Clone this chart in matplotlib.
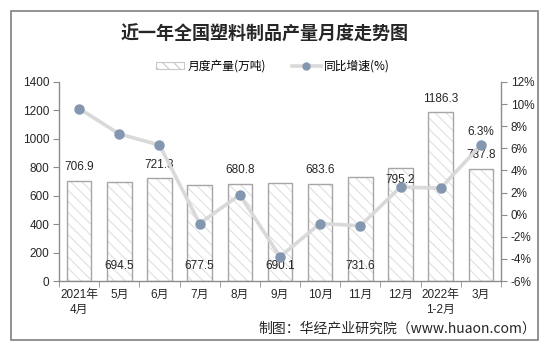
import matplotlib
matplotlib.use("Agg")
import matplotlib.pyplot as plt
from matplotlib.patches import Rectangle, Patch
from matplotlib.lines import Line2D
import numpy as np

# Monthly output of plastic products (10k tonnes) and YoY growth (%)
months = ["2021年\n4月", "5月", "6月", "7月", "8月", "9月", "10月", "11月",
          "12月", "2022年\n1-2月", "3月"]
output = [706.9, 694.5, 721.3, 677.5, 680.8, 690.1, 683.6, 731.6, 795.2, 1186.3, 787.8]
growth = [9.6, 7.3, 6.3, -0.8, 1.8, -3.8, -0.8, -1.0, 2.5, 2.4, 6.3]
y_left_ticks = [0, 200, 400, 600, 800, 1000, 1200, 1400]
y_right_ticks = [-6, -4, -2, 0, 2, 4, 6, 8, 10, 12]

plt.rcParams["font.family"] = ["Liberation Sans", "Noto Sans CJK SC"]
plt.rcParams["hatch.linewidth"] = 0.8

AXIS = "#8c8c8c"
BAR_EDGE = "#a6a6a6"
HATCH = "#e0e0e0"
LINE = "#d9d9d9"
MARK = "#8497b0"
TEXT = "#262626"

fig = plt.figure(figsize=(5.46, 3.46), dpi=100)
fig.patches.append(Rectangle((11 / 546, 1 - 340 / 346), 527 / 546, 329 / 346,
                             transform=fig.transFigure, fill=False,
                             edgecolor="#808080", lw=1.2))

ax = fig.add_axes([59 / 546, 1 - 281 / 346, 442 / 546, 199 / 346])
x = np.arange(len(months))
w = 0.61
ax.bar(x, output, width=w, color="white", edgecolor=HATCH, hatch="\\\\\\",
       linewidth=0, zorder=2)
ax.bar(x, output, width=w, fill=False, edgecolor=BAR_EDGE, linewidth=1.0, zorder=3)

ax.set_xlim(-0.5, len(months) - 0.5)
ax.set_ylim(0, 1400)
ax.set_yticks(y_left_ticks)
ax.set_yticklabels([str(v) for v in y_left_ticks], fontsize=8.5, color=TEXT)
ax.set_xticks(x)
ax.set_xticklabels(months, fontsize=8.5, color=TEXT, linespacing=1.3)
ax.set_xticks(np.arange(-0.5, len(months)), minor=True)
ax.tick_params(axis="x", which="major", length=0, pad=6)
ax.tick_params(axis="x", which="minor", length=4, color=AXIS, direction="out")
ax.tick_params(axis="y", length=4, color=AXIS, direction="out", pad=3)
for s in ["top", "right"]:
    ax.spines[s].set_visible(False)
for s in ["left", "bottom"]:
    ax.spines[s].set_color(AXIS)
    ax.spines[s].set_linewidth(1.0)

# value labels for bars
placement = ["top", "bottom", "top", "bottom", "top", "bottom", "top", "bottom",
             "inner", "top", "top"]
for xi, v, p in zip(x, output, placement):
    if p == "top":
        yy = v + 97
    elif p == "bottom":
        yy = 105
    else:
        yy = v - 85
    ax.text(xi, yy, f"{v:.1f}", ha="center", va="center", fontsize=8.5,
            color=TEXT, zorder=6)

ax2 = ax.twinx()
ax2.set_ylim(-6, 12)
ax2.set_yticks(y_right_ticks)
ax2.set_yticklabels([f"{v}%" for v in y_right_ticks], fontsize=8.5, color=TEXT)
ax2.tick_params(axis="y", length=4, color=AXIS, direction="out", pad=3)
for s in ["top", "left", "bottom"]:
    ax2.spines[s].set_visible(False)
ax2.spines["right"].set_color(AXIS)
ax2.spines["right"].set_linewidth(1.0)
ax2.plot(x, growth, color=LINE, lw=2.6, marker="o", markersize=6.5,
         markerfacecolor=MARK, markeredgecolor=MARK, zorder=5)
ax2.text(x[-1], growth[-1] + 1.15, f"{growth[-1]}%", ha="center", va="center",
         fontsize=8.5, color=TEXT)

fig.text(0.485, 1 - 34 / 346, "近一年全国塑料制品产量月度走势图", ha="center",
         va="center", fontsize=13, fontweight="bold", color=TEXT,
         family=["Noto Sans CJK SC"])

handles = [Patch(facecolor="white", edgecolor="#c8c8c8", hatch="\\\\\\", linewidth=0.8),
           Line2D([0], [0], color=LINE, lw=2.6, marker="o", markersize=5,
                  markerfacecolor=MARK, markeredgecolor=MARK)]
fig.legend(handles, ["月度产量(万吨)", "同比增速(%)"], loc="center",
           bbox_to_anchor=(0.5, 1 - 66 / 346), ncol=2, frameon=False,
           handlelength=2.4, handleheight=0.6, columnspacing=2.2,
           handletextpad=0.3, prop={"family": ["Noto Sans CJK SC"], "size": 8.5})

fig.text(536 / 546, 1 - 328 / 346, "制图：华经产业研究院（www.huaon.com）",
         ha="right", va="center", fontsize=10, color=TEXT,
         family=["Noto Sans CJK SC", "Liberation Sans"])

fig.savefig("out.png", dpi=100)
